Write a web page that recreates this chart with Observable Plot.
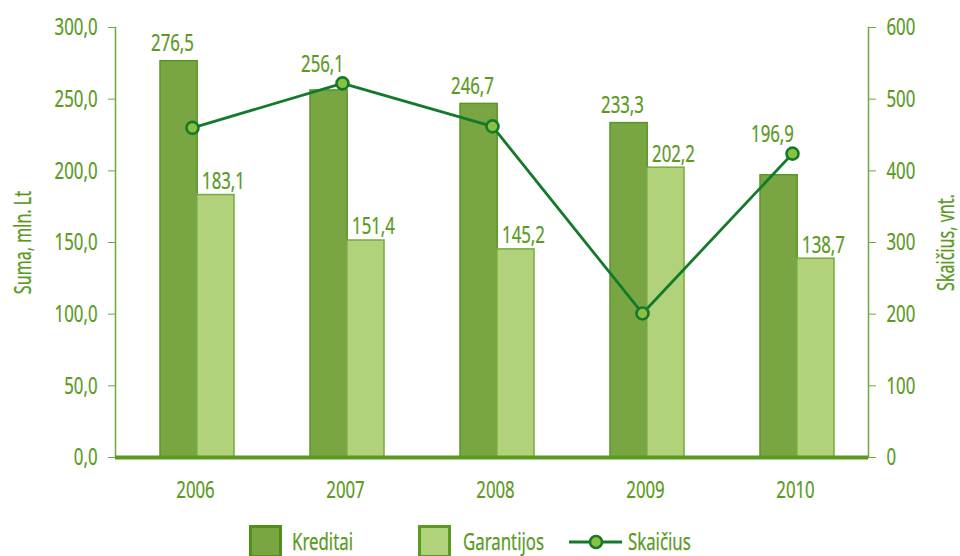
<!DOCTYPE html>
<html>
<head>
<meta charset="utf-8">
<script src="https://cdn.jsdelivr.net/npm/d3@7"></script>
<script src="https://cdn.jsdelivr.net/npm/@observablehq/plot@0.6"></script>
<style>
  html, body { margin: 0; padding: 0; background: #fff; }
  #wrap { width: 960px; position: relative; font-family: "Noto Sans", "DejaVu Sans Condensed", sans-serif; color: #5a9a1f; }
  #chart svg text { stroke: #5a9a1f; stroke-width: 0.25px; }
  #legend { position: relative; width: 960px; height: 41px; font-size: 24px; }
  #legend .sw { position: absolute; top: 10px; width: 33px; height: 33px; box-sizing: border-box; border: 3px solid #4f9018; }
  #legend .tx { position: absolute; top: 10px; line-height: 32px; transform: scaleX(0.7); transform-origin: left center; white-space: nowrap; -webkit-text-stroke: 0.25px #5a9a1f; }
  #legend svg { position: absolute; left: 565px; top: 15px; }
</style>
</head>
<body>
<div id="wrap">
  <div id="chart"></div>
  <div id="legend"></div>
</div>
<script>
const years = ["2006", "2007", "2008", "2009", "2010"];
const kreditai = [276.5, 256.1, 246.7, 233.3, 196.9];
const garantijos = [183.1, 151.4, 145.2, 202.2, 138.7];
const skaicius = [460, 522, 462, 201, 424];
const leftTicks = [0, 50, 100, 150, 200, 250, 300];
const rightTicks = [0, 100, 200, 300, 400, 500, 600];
const seriesNames = ["Kreditai", "Garantijos", "Skaičius"];
const axisTitles = ["Suma, mln. Lt", "Skaičius, vnt."];

const green = "#5a9a1f";
const kFill = "#79a642", kStroke = "#5a9627";
const gFill = "#b1d17a", gStroke = "#78ab3c";
const lineColor = "#137a2b", dotFill = "#8dc03f";

// right axis maps 0..600 onto left 0..300
const ratio = 600 / 300;

const rows = years.map((y, i) => ({
  year: y,
  k: kreditai[i],
  g: garantijos[i],
  c: skaicius[i],
  cy: skaicius[i] / ratio
}));

const fmt1 = d => d.toFixed(1).replace(".", ",");
const half = 36.8;

const plot = Plot.plot({
  width: 960,
  height: 515,
  marginLeft: 115,
  marginRight: 92,
  marginTop: 27,
  marginBottom: 58,
  style: { fontFamily: "'Noto Sans', 'DejaVu Sans Condensed', sans-serif", fontSize: "24px", color: green, background: "#fff" },
  x: { domain: years, paddingInner: 0.51, paddingOuter: 0.255 },
  y: { domain: [0, 300] },
  marks: [
    Plot.barY(rows, { x: "year", y: "k", fill: kFill, stroke: kStroke, strokeWidth: 1.5, insetRight: half, dx: 5 }),
    Plot.barY(rows, { x: "year", y: "g", fill: gFill, stroke: gStroke, strokeWidth: 1.5, insetLeft: half, dx: 5 }),
    Plot.frame({ anchor: "left", stroke: "#6ea83e", strokeWidth: 1.5 }),
    Plot.frame({ anchor: "right", stroke: "#6ea83e", strokeWidth: 1.5 }),
    Plot.ruleY([0], { stroke: green, strokeWidth: 4 }),
    Plot.axisY({ anchor: "left", ticks: leftTicks, tickFormat: fmt1, tickSize: 7, tickPadding: 11, label: null, stroke: "#6ea83e" }),
    Plot.axisY({ anchor: "right", ticks: rightTicks.map(t => t / ratio), tickFormat: d => String(Math.round(d * ratio)), tickSize: 7, tickPadding: 11, label: null, stroke: "#6ea83e" }),
    Plot.axisX({ anchor: "bottom", tickSize: 0, tickPadding: 23, label: null, dx: 3 }),
    Plot.text([axisTitles[0]], { frameAnchor: "left", textAnchor: "middle", rotate: -90, dx: -92, fill: green, fontSize: 23 }),
    Plot.text([axisTitles[1]], { frameAnchor: "right", textAnchor: "middle", rotate: -90, dx: 78, fill: green, fontSize: 23 }),
    Plot.line(rows, { x: "year", y: "cy", stroke: lineColor, strokeWidth: 2.8 }),
    Plot.dot(rows, { x: "year", y: "cy", r: 6, fill: dotFill, stroke: lineColor, strokeWidth: 2.6 }),
    Plot.text(rows, { x: "year", y: d => Math.max(d.k + 7, d.cy + 8), text: d => fmt1(d.k), lineAnchor: "bottom", dx: -20, fill: green }),
    Plot.text(rows, { x: "year", y: d => d.g, text: d => fmt1(d.g), lineAnchor: "bottom", dy: -6, dx: 31, fill: green })
  ]
});

// condense the glyphs horizontally (the reference uses a condensed face)
const squeeze = 0.7;
plot.querySelectorAll("text").forEach(t => {
  const x = +(t.getAttribute("x") || 0);
  const tr = t.getAttribute("transform") || "";
  t.setAttribute("transform", `${tr} translate(${x},0) scale(${squeeze},1) translate(${-x},0)`);
});
document.getElementById("chart").appendChild(plot);

// legend
const legend = document.getElementById("legend");
legend.innerHTML = `
  <div class="sw" style="left:249px;background:${kFill};border-color:#4f9018"></div>
  <div class="tx" style="left:292px">${seriesNames[0]}</div>
  <div class="sw" style="left:418px;background:${gFill};border-color:#5a9a1f"></div>
  <div class="tx" style="left:463px">${seriesNames[1]}</div>
  <svg width="62" height="24"><line x1="4" y1="12" x2="57" y2="12" stroke="${lineColor}" stroke-width="3"/><circle cx="31" cy="12" r="6" fill="${dotFill}" stroke="${lineColor}" stroke-width="2.5"/></svg>
  <div class="tx" style="left:628px">${seriesNames[2]}</div>
`;
</script>
</body>
</html>
